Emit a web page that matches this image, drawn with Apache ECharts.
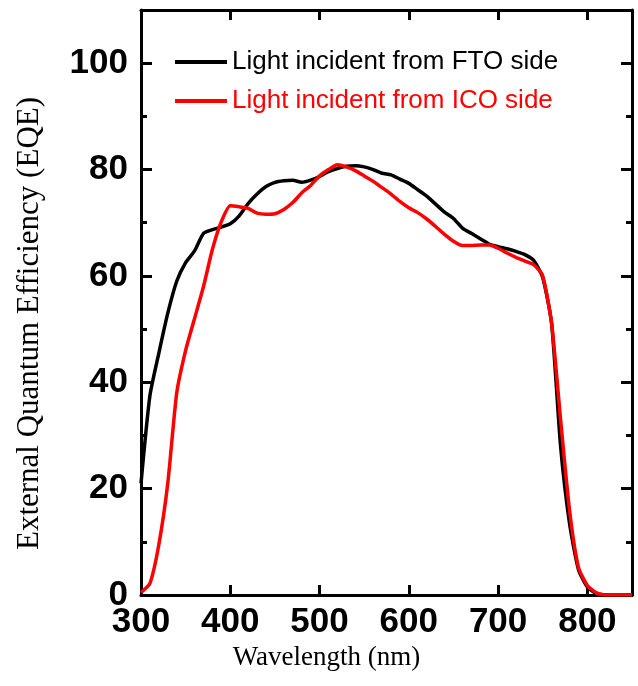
<!DOCTYPE html>
<html>
<head>
<meta charset="utf-8">
<script src="https://cdn.jsdelivr.net/npm/echarts@6/dist/echarts.min.js"></script>
<style>
  html, body { margin: 0; padding: 0; background: #fff; }
  #chatMain { width: 638px; height: 686px; }
</style>
</head>
<body>
<div id="chatMain"></div>
<script>
// 波长 (nm)
const wavelength = [300, 310, 320, 330, 340, 350, 360, 370, 380, 390,
  400, 410, 420, 430, 440, 450, 460, 470, 480, 490,
  500, 510, 520, 530, 540, 550, 560, 570, 580, 590,
  600, 610, 620, 630, 640, 650, 660, 670, 680, 690,
  700, 710, 720, 730, 740, 750, 760, 770, 780, 790,
  800, 810, 820, 830, 840, 850];
// FTO 侧入射
const eqeFTO = [21, 37.5, 45.5, 53, 59, 62.5, 64.7, 68, 68.7, 69.2,
  69.8, 71.3, 73.6, 75.4, 76.8, 77.6, 77.9, 78, 77.6, 78,
  78.7, 79.6, 80.2, 80.6, 80.7, 80.5, 80, 79.3, 79, 78.2,
  77.4, 76.2, 75, 73.5, 72, 70.8, 69, 68, 67, 66,
  65.5, 65.1, 64.6, 64, 62.9, 59.7, 51, 28, 13.5, 4.8,
  1.5, 0.3, 0, 0, 0, 0];
// ICO 侧入射
const eqeICO = [0.5, 2.2, 9.5, 21, 38, 46, 52, 58, 65, 70.2,
  73.2, 73, 72.7, 71.8, 71.6, 71.7, 72.5, 73.8, 75.6, 77,
  78.8, 80, 80.9, 80.5, 79.8, 78.8, 77.8, 76.6, 75.4, 74,
  72.8, 71.9, 70.7, 69.3, 67.8, 66.5, 65.7, 65.7, 65.8, 65.8,
  65.2, 64.3, 63.5, 62.8, 62.1, 60, 51, 33, 16, 5.2,
  1.8, 0.4, 0, 0, 0, 0];
const seriesNames = ['Light incident from FTO side', 'Light incident from ICO side'];
const seriesColors = ['#000000', '#ff0000'];

const myechart = echarts.init(document.getElementById('chatMain'));

const pairs = (ys) => wavelength.map((x, i) => [x, ys[i]]);

const labelFont = {
  fontFamily: 'Liberation Sans',
  fontWeight: 'bold',
  fontSize: 35,
  color: '#000'
};
const axisLine = { show: true, onZero: false, lineStyle: { color: '#000', width: 3 } };

var option = {
  backgroundColor: '#fff',
  animation: false,
  grid: { left: 141, right: 6, top: 10, bottom: 91 },
  legend: {
    orient: 'vertical',
    left: 175,
    top: 49,
    padding: 0,
    icon: 'rect',
    itemWidth: 52,
    itemHeight: 4,
    itemGap: 13,
    textStyle: { fontFamily: 'Liberation Sans', fontSize: 26 },
    data: seriesNames.map((n, i) => ({ name: n, textStyle: { color: seriesColors[i] } }))
  },
  xAxis: [{
    type: 'value',
    min: 300,
    max: 850,
    interval: 100,
    name: 'Wavelength (nm)',
    nameLocation: 'middle',
    nameGap: 34,
    nameTextStyle: { fontFamily: 'Liberation Serif', fontSize: 27, color: '#000', padding: [0, 120, 0, 0] },
    axisLine: axisLine,
    axisTick: { inside: true, length: 10, lineStyle: { color: '#000', width: 3 } },
    axisLabel: Object.assign({ margin: 10, showMaxLabel: false }, labelFont),
    splitLine: { show: false }
  }, {
    type: 'value',
    position: 'top',
    min: 300,
    max: 850,
    interval: 100,
    axisLine: axisLine,
    axisTick: { inside: true, length: 10, lineStyle: { color: '#000', width: 3 } },
    axisLabel: { show: false },
    splitLine: { show: false }
  }],
  yAxis: [{
    type: 'value',
    min: 0,
    max: 110,
    interval: 20,
    name: 'External Quantum Efficiency (EQE)',
    nameLocation: 'middle',
    nameGap: 96,
    nameTextStyle: { fontFamily: 'Liberation Serif', fontSize: 31, color: '#000', padding: [0, 42, 0, 0] },
    axisLine: axisLine,
    axisTick: { inside: true, length: 11, lineStyle: { color: '#000', width: 3 } },
    minorTick: { show: true, splitNumber: 2, length: 6, lineStyle: { color: '#000', width: 3 } },
    axisLabel: Object.assign({ margin: 13, showMaxLabel: false }, labelFont),
    splitLine: { show: false },
    minorSplitLine: { show: false }
  }, {
    type: 'value',
    position: 'right',
    min: 0,
    max: 110,
    interval: 20,
    axisLine: axisLine,
    axisTick: { inside: true, length: 11, lineStyle: { color: '#000', width: 3 } },
    minorTick: { show: true, splitNumber: 2, length: 6, lineStyle: { color: '#000', width: 3 } },
    axisLabel: { show: false },
    splitLine: { show: false },
    minorSplitLine: { show: false }
  }],
  series: [eqeFTO, eqeICO].map((ys, i) => ({
    name: seriesNames[i],
    type: 'line',
    data: pairs(ys),
    symbol: 'none',
    showSymbol: false,
    smooth: 0.2,
    color: seriesColors[i],
    lineStyle: { color: seriesColors[i], width: 3.5 },
    z: 2 + i
  }))
};
myechart.setOption(option);
</script>
</body>
</html>
